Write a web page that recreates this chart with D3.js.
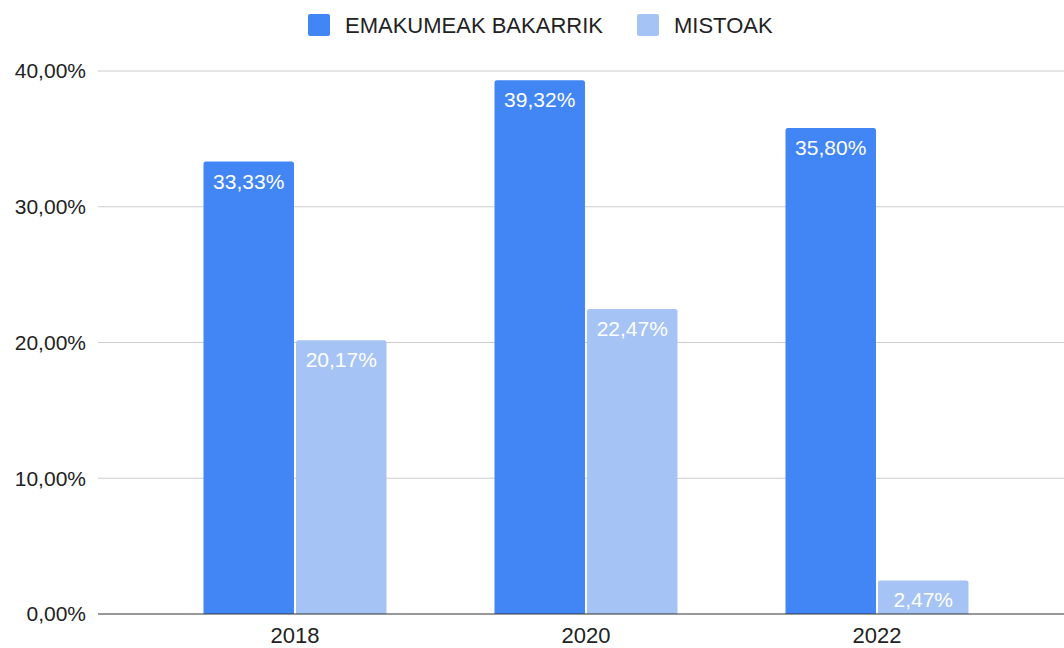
<!DOCTYPE html>
<html>
<head>
<meta charset="utf-8">
<script src="https://cdn.jsdelivr.net/npm/d3@7"></script>
<style>
  body { margin: 0; background: #fff; }
  text { font-family: "Liberation Sans", Arial, sans-serif; }
</style>
</head>
<body>
<script>
var years = ["2018", "2020", "2022"];
var series = ["EMAKUMEAK BAKARRIK", "MISTOAK"];
var emakumeak = [33.33, 39.32, 35.80];
var mistoak = [20.17, 22.47, 2.47];
var yTicks = [0, 10, 20, 30, 40];
var colors = ["#4285f4", "#a5c3f4"];

var width = 1064,
    height = 648;

var svg = d3.select("body").append("svg")
    .attr("width", width)
    .attr("height", height);

var fmt = function(v) { return v.toFixed(2).replace(".", ",") + "%"; };

var x = d3.scaleBand()
    .domain(years)
    .range([149.5, 1022.5]);

var x1 = d3.scaleBand()
    .domain(series)
    .range([54, x.bandwidth() - 54])
    .paddingInner(0.022);

var y = d3.scaleLinear()
    .domain([0, 40])
    .range([614, 71]);

// grid
svg.append("g").selectAll("line")
    .data(yTicks.slice(1))
  .enter().append("line")
    .attr("x1", 98)
    .attr("x2", width)
    .attr("y1", function(d) { return y(d); })
    .attr("y2", function(d) { return y(d); })
    .attr("stroke", "#cccccc")
    .attr("stroke-width", 1);

// y labels
svg.append("g").selectAll("text")
    .data(yTicks)
  .enter().append("text")
    .attr("x", 86)
    .attr("y", function(d) { return y(d); })
    .attr("dy", "0.35em")
    .attr("text-anchor", "end")
    .attr("font-size", 21)
    .attr("fill", "#222")
    .text(function(d) { return d.toFixed(2).replace(".", ",") + "%"; });

var rows = years.map(function(yr, i) {
  return [
    { year: yr, key: series[0], value: emakumeak[i], c: colors[0] },
    { year: yr, key: series[1], value: mistoak[i], c: colors[1] }
  ];
});

var groups = svg.append("g").selectAll("g")
    .data(rows)
  .enter().append("g")
    .attr("transform", function(d) { return "translate(" + x(d[0].year) + ",0)"; });

var r = 2.5;
groups.selectAll("path")
    .data(function(d) { return d; })
  .enter().append("path")
    .attr("fill", function(d) { return d.c; })
    .attr("d", function(d) {
      var x0 = x1(d.key), w = x1.bandwidth(), t = y(d.value), b = y(0);
      return "M" + x0 + "," + b + "V" + (t + r) + "Q" + x0 + "," + t + " " + (x0 + r) + "," + t +
        "H" + (x0 + w - r) + "Q" + (x0 + w) + "," + t + " " + (x0 + w) + "," + (t + r) + "V" + b + "Z";
    });

groups.selectAll("text")
    .data(function(d) { return d; })
  .enter().append("text")
    .attr("x", function(d) { return x1(d.key) + x1.bandwidth() / 2; })
    .attr("y", function(d) { return y(d.value) + 27; })
    .attr("text-anchor", "middle")
    .attr("font-family", "Roboto, sans-serif")
    .attr("font-size", 21)
    .attr("fill", "#fff")
    .text(function(d) { return fmt(d.value); });

// baseline
svg.append("line")
    .attr("x1", 98)
    .attr("x2", width)
    .attr("y1", y(0))
    .attr("y2", y(0))
    .attr("stroke", "#333")
    .attr("stroke-width", 1.2);

// x labels
svg.append("g").selectAll("text")
    .data(years)
  .enter().append("text")
    .attr("x", function(d) { return x(d) + x.bandwidth() / 2; })
    .attr("y", 643)
    .attr("text-anchor", "middle")
    .attr("font-size", 22)
    .attr("fill", "#222")
    .text(function(d) { return d; });

// legend
var legendX = [308, 637];
var legend = svg.append("g").selectAll("g")
    .data(series)
  .enter().append("g")
    .attr("transform", function(d, i) { return "translate(" + legendX[i] + ",14)"; });

legend.append("rect")
    .attr("width", 22)
    .attr("height", 22)
    .attr("rx", 2)
    .attr("fill", function(d, i) { return colors[i]; });

legend.append("text")
    .attr("x", 37)
    .attr("y", 11)
    .attr("dy", "0.35em")
    .attr("font-size", 22)
    .attr("fill", "#222")
    .text(function(d) { return d; });
</script>
</body>
</html>
